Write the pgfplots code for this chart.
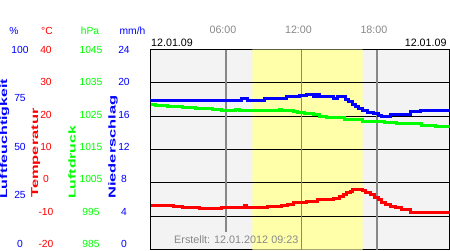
\documentclass[border=0pt]{standalone}
\usepackage{pgfplots}
\pgfplotsset{compat=1.18}
\usepackage{fontspec}
\setmainfont{Liberation Sans}
\definecolor{bggray}{HTML}{F3F3F3}
\definecolor{dayyel}{HTML}{FFFFAA}
\definecolor{tgray}{HTML}{888888}
\definecolor{hblue}{HTML}{0000FF}
\definecolor{pgreen}{HTML}{00FF00}
\definecolor{tred}{HTML}{FF0000}
\newcommand{\fs}{\fontsize{10.3}{12}\selectfont}
\newcommand{\fst}{\fontsize{10.7}{12}\selectfont}
\pgfplotsset{
  base/.style={
    at={(150.5pt,0.5pt)}, anchor=south west,
    width=299pt, height=200pt, scale only axis,
    xmin=0, xmax=23.77,
    major tick length=0pt,
  },
  overlay/.style={
    base,
    axis line style={draw=none},
    xtick=\empty,
    ytick pos=left,
  },
}
\begin{document}
\begin{tikzpicture}
\useasboundingbox (0,0) rectangle (450pt,250pt);
% ---- temperature axis (background, grid, red curve)
\begin{axis}[base,
  ymin=-20, ymax=40,
  axis background/.style={fill=bggray},
  axis line style={black, line width=1pt},
  xtick={6,12,18}, xticklabels={06:00,12:00,18:00},
  xticklabel pos=upper,
  xticklabel style={font=\fst, text=tgray, anchor=center, xshift=-3pt, yshift=19.5pt},
  ytick={39.85,30.16,20.35,10.84,1.15,-8.66,-18.35},
  yticklabels={40,30,20,10,0,-10,-20},
  ytick pos=left,
  yticklabel style={font=\fs, text=tred, anchor=center, xshift=-104.5pt},
]
\addplot[fill=dayyel, draw=none] coordinates {(8.09,-20) (16.87,-20) (16.87,40) (8.09,40)} \closedcycle;
\draw[black, line width=1pt] (axis cs:0,-10) -- (axis cs:23.77,-10);
\draw[black, line width=1pt] (axis cs:0,0) -- (axis cs:23.77,0);
\draw[black, line width=1pt] (axis cs:0,10) -- (axis cs:23.77,10);
\draw[black, line width=1pt] (axis cs:0,20) -- (axis cs:23.77,20);
\draw[black, line width=1pt] (axis cs:0,30) -- (axis cs:23.77,30);
\draw[tgray, line width=1.2pt] (axis cs:6,-14.66) -- (axis cs:6,40);
\draw[tgray, line width=1.2pt] (axis cs:12,-20) -- (axis cs:12,40);
\draw[tgray, line width=1.2pt] (axis cs:18,-20) -- (axis cs:18,40);
\addplot[tred, line width=3pt, const plot, mark=none] coordinates {
(0,-6.65)(1.79,-6.95)(2.58,-7.25)(3.93,-7.64)(5.68,-7.34)(7.51,-6.86)(7.67,-7.25)
(9.34,-6.95)(10.45,-6.65)(10.93,-6.35)(11.33,-5.96)(12.44,-5.54)(13.24,-4.94)
(14.51,-4.64)(15.06,-4.1)(15.38,-3.5)(15.62,-2.9)(15.86,-2.45)(16.02,-1.94)
(16.89,-2.3)(17.13,-2.9)(17.45,-3.5)(17.77,-4.25)(18.09,-5.0)(18.40,-5.75)
(18.72,-6.35)(19.04,-6.95)(19.44,-7.4)(19.99,-8.0)(20.63,-8.84)(23.77,-8.84)};
\end{axis}
% ---- humidity axis
\begin{axis}[overlay,
  ymin=0, ymax=100,
  ytick={99.75,75.75,51.25,27.25,2.75},
  yticklabels={100,75,50,25,0},
  yticklabel style={font=\fs, text=hblue, anchor=center, xshift=-130.5pt},
]
\addplot[hblue, line width=3pt, const plot, mark=none] coordinates {
(0,74.75)(7.25,75.6)(7.75,74.75)(9.10,75.6)(10.83,76.75)(11.88,77.25)(12.42,77.75)
(12.94,76.75)(13.21,77.75)(13.47,76.4)(14.51,75.6)(14.83,76.75)(15.54,75.25)
(15.78,74)(16.02,72.75)(16.26,71.5)(16.57,70.5)(16.89,69.5)(17.29,68.75)
(17.69,68)(18.09,67.25)(18.40,66.5)(19.04,67.6)(20.63,68.9)(21.50,69.75)(23.77,69.75)};
\end{axis}
% ---- pressure axis
\begin{axis}[overlay,
  ymin=985, ymax=1045,
  ytick={1044.85,1035.16,1025.35,1015.84,1006.15,996.34,986.65},
  yticklabels={1045,1035,1025,1015,1005,995,985},
  yticklabel style={font=\fs, text=pgreen, anchor=center, xshift=-59.5pt},
]
\addplot[pgreen, line width=3pt, const plot, mark=none] coordinates {
(0,1028.65)(0.36,1028.26)(1.39,1027.84)(2.58,1027.54)(3.54,1027.24)(4.89,1027.06)
(5.68,1026.76)(6.72,1027.15)(7.11,1026.85)(10.29,1027.15)(10.45,1026.85)(11.33,1026.34)
(11.65,1026.04)(12.28,1025.8)(12.92,1025.5)(13.47,1024.96)(14.03,1024.5)(15.46,1024.0)
(16.89,1023.55)(18.64,1023.25)(19.59,1022.86)(21.58,1022.35)(22.62,1022.05)(23.77,1022.05)};
\end{axis}
% ---- precipitation axis (labels only)
\begin{axis}[overlay,
  ymin=0, ymax=24,
  ytick={23.94,20.06,16.14,12.34,8.46,4.54,0.66},
  yticklabels={24,20,16,12,8,4,0},
  yticklabel style={font=\fs, text=hblue, anchor=center, xshift=-26.5pt},
]
\addplot[draw=none, forget plot] coordinates {(0,0)(23.77,0)};
\end{axis}
% ---- texts
\node[font=\fs, text=hblue] at (14pt,219pt) {\%};
\node[font=\fs, text=tred] at (47pt,219pt) {°C};
\node[font=\fs, text=pgreen] at (90pt,219pt) {hPa};
\node[font=\fs, text=hblue] at (132.5pt,219pt) {mm/h};
\node[font=\fst, anchor=west, inner sep=0pt] at (151pt,207.5pt) {12.01.09};
\node[font=\fst, anchor=east, inner sep=0pt] at (446.7pt,207.5pt) {12.01.09};
\node[font=\fontsize{10.8}{12}\selectfont, text=tgray, anchor=base west, inner sep=0pt] at (174pt,6.7pt) {Erstellt: 12.01.2012 09:23};
\node[rotate=90, anchor=west, inner sep=0pt, text=hblue] at (4.5pt,51pt) {\fontsize{10}{12}\selectfont\scalebox{1.6}[1]{\bfseries Luftfeuchtigkeit}};
\node[rotate=90, anchor=west, inner sep=0pt, text=tred] at (35.8pt,52pt) {\fontsize{10}{12}\selectfont\scalebox{1.65}[1]{\bfseries Temperatur}};
\node[rotate=90, anchor=west, inner sep=0pt, text=pgreen] at (72pt,51pt) {\fontsize{10}{12}\selectfont\scalebox{1.58}[1]{\bfseries Luftdruck}};
\node[rotate=90, anchor=west, inner sep=0pt, text=hblue] at (113pt,51pt) {\fontsize{10}{12}\selectfont\scalebox{1.65}[1]{\bfseries Niederschlag}};
\end{tikzpicture}
\end{document}
